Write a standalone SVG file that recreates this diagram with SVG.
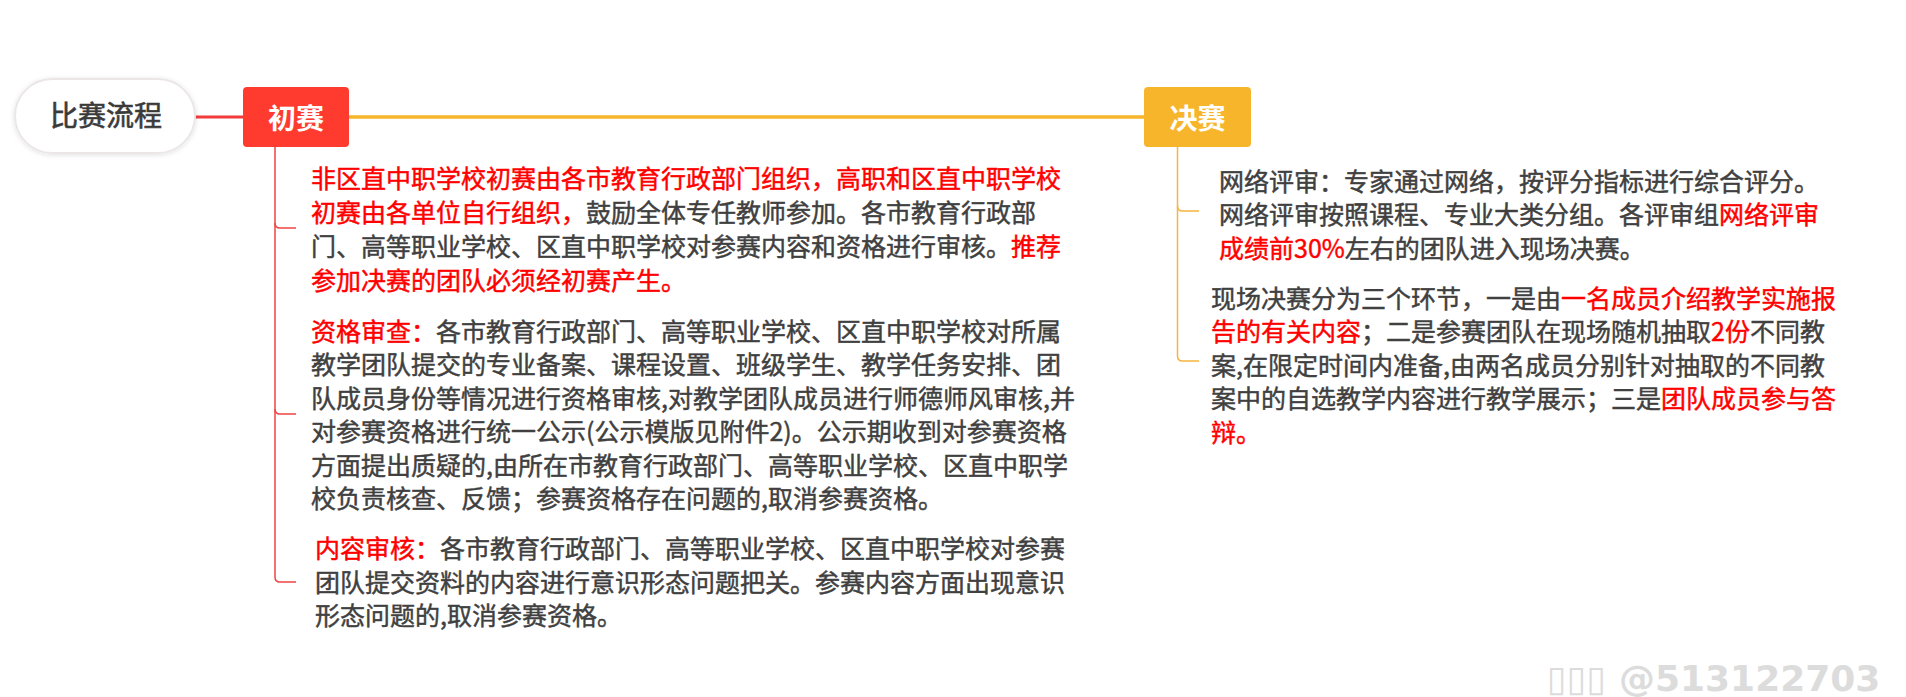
<svg xmlns="http://www.w3.org/2000/svg" width="1906" height="697" viewBox="0 0 1906 697">
<defs>
<style>
.body{font-family:"Microsoft YaHei","Noto Sans CJK SC",sans-serif;font-size:25px;fill:#404040;stroke:#404040;stroke-width:0.45;}
.r{fill:#FF0000;stroke:#FF0000;}
.title{font-family:"Microsoft YaHei","Noto Sans CJK SC",sans-serif;font-size:28px;font-weight:bold;fill:#ffffff;text-anchor:middle;}
.root{font-family:"Microsoft YaHei","Noto Sans CJK SC",sans-serif;font-size:28px;fill:#3a3a3a;stroke:#3a3a3a;stroke-width:0.6;text-anchor:middle;}
.lred{fill:none;stroke:#EE4444;stroke-width:1.5;}
.lorg{fill:none;stroke:#F5B540;stroke-width:1.5;}
.wm{font-family:"DejaVu Sans",sans-serif;font-size:36px;font-weight:bold;fill:#dcdcdc;}
</style>
<filter id="sh" x="-20%" y="-30%" width="140%" height="160%">
<feDropShadow dx="0" dy="1" stdDeviation="2.5" flood-color="#000000" flood-opacity="0.12"/>
</filter>
</defs>
<rect width="1906" height="697" fill="#ffffff"/>

<g id="connectors">
<line x1="195" y1="117" x2="243" y2="117" stroke="#F23A3A" stroke-width="3"/>
<line x1="349" y1="117" x2="1144" y2="117" stroke="#F7B52C" stroke-width="3.5"/>
<path class="lred" d="M275,147 L275,577 Q275,582 280,582 L296,582"/>
<path class="lred" d="M275,223 Q275,228 280,228 L296,228"/>
<path class="lred" d="M275,409 Q275,414 280,414 L296,414"/>
<path class="lorg" d="M1177.5,146 L1177.5,356 Q1177.5,361 1182.5,361 L1199,361"/>
<path class="lorg" d="M1177.5,206 Q1177.5,211 1182.5,211 L1199,211"/>
</g>

<g id="root">
<rect x="15" y="79" width="180" height="74" rx="37" ry="37" fill="#ffffff" stroke="#ebe7e6" stroke-width="2" filter="url(#sh)"/>
<text class="root" x="106" y="126">比赛流程</text>
</g>

<g id="chusai">
<rect x="243" y="87" width="106" height="60" rx="4" ry="4" fill="#FF3B30"/>
<text class="title" x="296" y="129">初赛</text>
</g>

<g id="juesai">
<rect x="1144" y="87" width="107" height="60" rx="4" ry="4" fill="#F7B52C"/>
<text class="title" x="1197.5" y="129">决赛</text>
</g>

<g id="block1">
<text class="body" x="311" y="187.5"><tspan class="r">非区直中职学校初赛由各市教育行政部门组织，高职和区直中职学校</tspan></text>
<text class="body" x="311" y="221.5"><tspan class="r">初赛由各单位自行组织，</tspan>鼓励全体专任教师参加。各市教育行政部</text>
<text class="body" x="311" y="255.5">门、高等职业学校、区直中职学校对参赛内容和资格进行审核。<tspan class="r">推荐</tspan></text>
<text class="body" x="311" y="289.5"><tspan class="r">参加决赛的团队必须经初赛产生。</tspan></text>
</g>

<g id="block2">
<text class="body" x="311" y="340.5"><tspan class="r">资格审查：</tspan>各市教育行政部门、高等职业学校、区直中职学校对所属</text>
<text class="body" x="311" y="374">教学团队提交的专业备案、课程设置、班级学生、教学任务安排、团</text>
<text class="body" x="311" y="407.5">队成员身份等情况进行资格审核,对教学团队成员进行师德师风审核,并</text>
<text class="body" x="311" y="441">对参赛资格进行统一公示(公示模版见附件2)。公示期收到对参赛资格</text>
<text class="body" x="311" y="474.5">方面提出质疑的,由所在市教育行政部门、高等职业学校、区直中职学</text>
<text class="body" x="311" y="508">校负责核查、反馈；参赛资格存在问题的,取消参赛资格。</text>
</g>

<g id="block3">
<text class="body" x="315" y="558"><tspan class="r">内容审核：</tspan>各市教育行政部门、高等职业学校、区直中职学校对参赛</text>
<text class="body" x="315" y="591.5">团队提交资料的内容进行意识形态问题把关。参赛内容方面出现意识</text>
<text class="body" x="315" y="625">形态问题的,取消参赛资格。</text>
</g>

<g id="block4">
<text class="body" x="1219" y="190.5">网络评审：专家通过网络，按评分指标进行综合评分。</text>
<text class="body" x="1219" y="224">网络评审按照课程、专业大类分组。各评审组<tspan class="r">网络评审</tspan></text>
<text class="body" x="1219" y="257.5"><tspan class="r">成绩前30%</tspan>左右的团队进入现场决赛。</text>
</g>

<g id="block5">
<text class="body" x="1211" y="307.5">现场决赛分为三个环节，一是由<tspan class="r">一名成员介绍教学实施报</tspan></text>
<text class="body" x="1211" y="341"><tspan class="r">告的有关内容</tspan>；二是参赛团队在现场随机抽取<tspan class="r">2份</tspan>不同教</text>
<text class="body" x="1211" y="374.5">案,在限定时间内准备,由两名成员分别针对抽取的不同教</text>
<text class="body" x="1211" y="408">案中的自选教学内容进行教学展示；三是<tspan class="r">团队成员参与答</tspan></text>
<text class="body" x="1211" y="441.5"><tspan class="r">辩。</tspan></text>
</g>

<g id="watermark">
<text class="wm" x="1547" y="691">▯▯▯ @513122703</text>
</g>
</svg>
